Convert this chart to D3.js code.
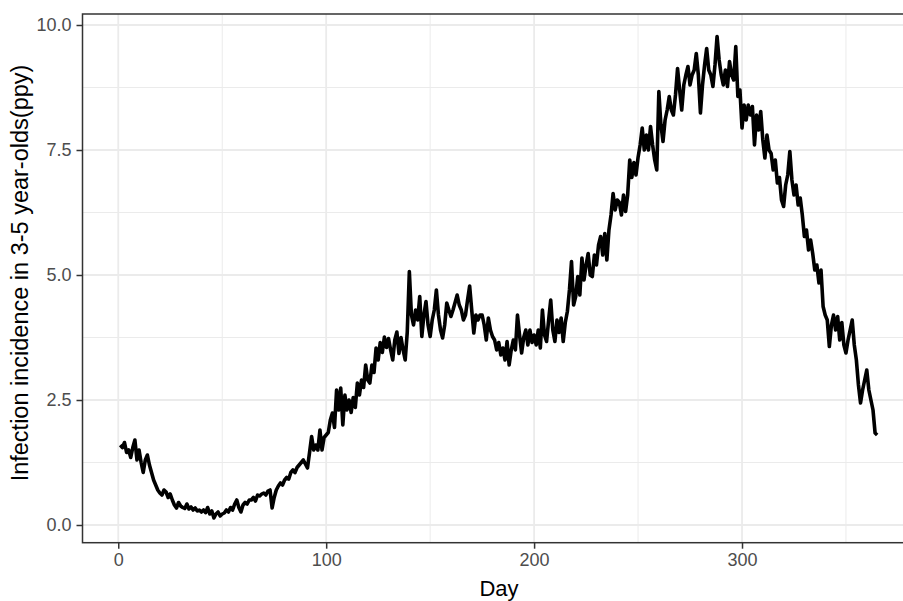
<!DOCTYPE html>
<html><head><meta charset="utf-8">
<script src="https://cdn.jsdelivr.net/npm/d3@7/dist/d3.min.js"></script>
<style>body{margin:0;background:#fff}svg{display:block}</style>
</head><body><svg id="c" width="903" height="601"></svg>
<script>
const startDay = 1;
const incidence = [
1.6,1.55,1.65,1.45,1.5,1.35,1.55,1.7,1.3,1.5,
1.25,1.05,1.3,1.4,1.2,1.05,0.9,0.8,0.7,0.64,
0.6,0.7,0.66,0.55,0.62,0.5,0.4,0.34,0.45,0.38,
0.35,0.33,0.42,0.32,0.36,0.3,0.34,0.28,0.3,0.26,
0.3,0.25,0.35,0.22,0.28,0.14,0.22,0.26,0.18,0.22,
0.24,0.3,0.26,0.35,0.3,0.42,0.5,0.35,0.26,0.4,
0.45,0.42,0.5,0.5,0.55,0.48,0.6,0.58,0.62,0.64,
0.6,0.68,0.7,0.34,0.55,0.7,0.78,0.84,0.8,0.9,
0.95,0.92,1.05,1.1,1.05,1.15,1.2,1.25,1.3,1.22,
1.14,1.45,1.77,1.5,1.6,1.5,1.9,1.5,1.75,1.8,
1.85,2.1,2.24,1.95,2.7,2.3,2.74,2.0,2.6,2.3,
2.5,2.25,2.55,2.35,2.84,2.6,2.9,2.75,3.2,2.9,
2.84,3.2,3.05,3.54,3.3,3.65,3.45,3.76,3.55,3.73,
3.5,3.3,3.7,3.86,3.43,3.75,3.5,3.3,3.86,5.07,
4.2,4.0,4.3,4.1,4.57,3.77,4.2,4.47,4.0,3.77,
4.1,4.3,4.7,4.2,3.9,3.74,4.0,4.44,4.3,4.17,
4.3,4.45,4.6,4.4,4.3,4.1,4.2,4.5,4.78,4.3,
3.84,4.2,4.1,4.2,4.2,4.0,3.7,4.14,3.9,3.77,
3.7,3.5,3.65,3.4,3.54,3.3,3.67,3.2,3.5,3.7,
3.5,4.2,3.8,3.44,3.75,3.9,3.6,3.9,3.65,3.8,
3.6,3.9,3.54,4.3,3.8,3.67,4.1,4.5,3.9,3.67,
4.1,3.85,4.14,3.67,4.05,4.27,4.7,5.27,4.4,4.57,
4.97,4.6,5.34,4.9,5.2,5.43,5.0,4.97,5.4,5.2,
5.6,5.77,5.4,5.83,5.3,5.9,6.2,6.63,6.3,6.5,
6.45,6.2,6.6,6.27,6.6,7.3,6.95,7.25,7.0,7.35,
7.6,7.94,7.5,7.8,7.5,7.97,7.6,7.3,7.1,8.67,
8.0,7.67,8.1,8.3,8.57,8.3,8.2,8.6,9.13,8.7,
8.3,8.8,9.0,9.17,8.8,9.0,9.1,9.43,9.0,8.24,
8.8,9.2,9.53,9.1,9.0,8.77,9.2,9.77,9.3,9.0,
8.8,9.1,8.77,9.27,9.0,8.9,9.57,8.57,8.7,7.94,
8.4,8.1,8.4,8.2,8.37,7.6,8.2,7.9,8.27,7.7,
7.34,7.8,7.5,7.43,7.1,7.3,6.84,6.95,6.5,6.37,
6.8,7.0,7.47,6.9,6.6,6.8,6.4,6.54,6.2,5.77,
5.9,5.5,5.7,5.43,5.1,5.2,4.84,5.1,4.37,4.2,
4.1,3.57,4.0,4.2,3.9,4.17,3.7,4.05,3.6,3.44,
3.7,3.9,4.1,3.6,3.3,2.8,2.44,2.7,2.9,3.1,
2.7,2.5,2.3,1.84,1.8
];
const xTicks = [0,100,200,300];
const xMinor = [50,150,250,350];
const yTicks = [0,2.5,5,7.5,10];
const yMinor = [1.25,3.75,6.25,8.75];
const xTitle = "Day";
const yTitle = "Infection incidence in 3-5 year-olds(ppy)";

const data = incidence.map((v,i)=>({day:startDay+i, v}));
const svg = d3.select("#c");
const L=82.5, T=14, R=915, B=542.7;
const x = d3.scaleLinear().domain([-17.2,383.2]).range([L,R]);
const y = d3.scaleLinear().domain([-0.354,10.22]).range([B,T]);
const grid = "#EBEBEB";
const g = svg.append("g");
g.append("rect").attr("x",L).attr("y",T).attr("width",R-L).attr("height",B-T).attr("fill","#fff");
g.selectAll(".xm").data(xMinor).join("line").attr("x1",d=>x(d)).attr("x2",d=>x(d)).attr("y1",T).attr("y2",B).attr("stroke",grid).attr("stroke-width",1);
g.selectAll(".ym").data(yMinor).join("line").attr("y1",d=>y(d)).attr("y2",d=>y(d)).attr("x1",L).attr("x2",R).attr("stroke",grid).attr("stroke-width",1);
g.selectAll(".xM").data(xTicks).join("line").attr("x1",d=>x(d)).attr("x2",d=>x(d)).attr("y1",T).attr("y2",B).attr("stroke",grid).attr("stroke-width",1.8);
g.selectAll(".yM").data(yTicks).join("line").attr("y1",d=>y(d)).attr("y2",d=>y(d)).attr("x1",L).attr("x2",R).attr("stroke",grid).attr("stroke-width",1.8);

const line = d3.line().x(d=>x(d.day)).y(d=>y(d.v));
g.append("path").datum(data).attr("d",line).attr("fill","none").attr("stroke","#000").attr("stroke-width",3.6).attr("stroke-linejoin","round");

g.append("rect").attr("x",L).attr("y",T).attr("width",R-L).attr("height",B-T).attr("fill","none").attr("stroke","#333").attr("stroke-width",1.5);

const font = "'Liberation Sans', Arial, sans-serif";
const xa = svg.append("g").attr("transform",`translate(0,${B})`)
  .call(d3.axisBottom(x).tickValues(xTicks).tickFormat(d3.format("d")).tickSize(6).tickPadding(5));
const ya = svg.append("g").attr("transform",`translate(${L},0)`)
  .call(d3.axisLeft(y).tickValues(yTicks).tickFormat(d3.format(".1f")).tickSize(6).tickPadding(5));
[xa,ya].forEach(a=>{
  a.attr("font-size",18).attr("font-family",font);
  a.select(".domain").remove();
  a.selectAll(".tick line").attr("stroke","#333").attr("stroke-width",1.5);
  a.selectAll(".tick text").attr("fill","#4D4D4D").attr("font-size",18).style("font-size","18px").style("font-family",font);
});
svg.append("text").attr("x",499).attr("y",596).attr("text-anchor","middle")
  .style("font-family",font).style("font-size","22px").attr("fill","#000").text(xTitle);
svg.append("text").attr("transform",`translate(28,273) rotate(-90)`).attr("text-anchor","middle")
  .style("font-family",font).style("font-size","23.5px").attr("fill","#000").text(yTitle);
</script></body></html>
